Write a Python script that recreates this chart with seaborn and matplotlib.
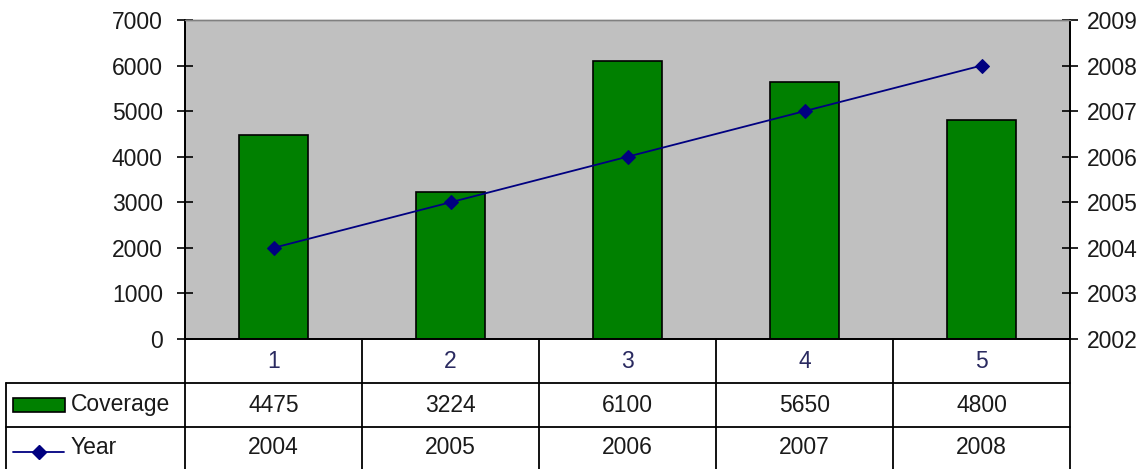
import numpy as np
import matplotlib
matplotlib.use("Agg")
import matplotlib.pyplot as plt
import seaborn as sns
from matplotlib.lines import Line2D
from matplotlib.patches import Rectangle

categories = ["1", "2", "3", "4", "5"]
coverage = [4475, 3224, 6100, 5650, 4800]
years = [2004, 2005, 2006, 2007, 2008]
left_ticks = [0, 1000, 2000, 3000, 4000, 5000, 6000, 7000]
right_ticks = [2002, 2003, 2004, 2005, 2006, 2007, 2008, 2009]

sns.set_theme(style="white")
plt.rcParams["font.family"] = ["Liberation Sans", "DejaVu Sans"]

W, H = 1147, 469
fig = plt.figure(figsize=(W / 100, H / 100), dpi=100)
fig.patch.set_facecolor("white")

# plot area in pixel units
px_l, px_r, px_t, px_b = 185, 1070, 20, 339
ax = fig.add_axes([px_l / W, (H - px_b) / H, (px_r - px_l) / W, (px_b - px_t) / H])
ax.set_facecolor("#C0C0C0")

bar_green = "#008000"
navy = "#000080"
txt = "#1a1a1a"
fs = 16.5

sns.barplot(x=categories, y=coverage, ax=ax, color=bar_green, edgecolor="black",
            linewidth=1.2, width=0.385, saturation=1)
ax.set_xlim(-0.5, len(categories) - 0.5)
ax.set_ylim(left_ticks[0], left_ticks[-1])
ax.set_yticks(left_ticks)
ax.set_xticks([])
ax.set_xlabel("")
ax.set_ylabel("")
ax.tick_params(axis="y", direction="inout", length=12, width=1.2, color="black",
               labelsize=fs, labelcolor=txt, pad=10, left=True)

ax2 = ax.twinx()
pos = np.arange(len(categories))
sns.lineplot(x=pos, y=years, ax=ax2, color=navy, linewidth=1.3, marker="D",
             markersize=7, markeredgecolor=navy, markerfacecolor=navy)
ax2.set_ylim(right_ticks[0], right_ticks[-1])
ax2.set_yticks(right_ticks)
ax2.set_xlim(-0.5, len(categories) - 0.5)
ax2.set_ylabel("")
ax2.tick_params(axis="y", direction="inout", length=12, width=1.2, color="black",
                labelsize=fs, labelcolor=txt, pad=6.5, right=True)

for a in (ax, ax2):
    a.spines["left"].set_color("black")
    a.spines["left"].set_linewidth(1.3)
    a.spines["right"].set_color("black")
    a.spines["right"].set_linewidth(1.3)
    a.spines["top"].set_color("#808080")
    a.spines["top"].set_linewidth(1.0)
    a.spines["bottom"].set_color("black")
    a.spines["bottom"].set_linewidth(1.3)

# data table beneath the plot area, drawn in pixel coordinates
tab = fig.add_axes([0, 0, 1, 1], facecolor="none")
tab.set_xlim(0, W)
tab.set_ylim(H, 0)
tab.axis("off")

col_w = (px_r - px_l) / len(categories)
row_edges = [px_b, 383, 427, 469]
lk = dict(color="black", linewidth=1.3)
for i in range(len(categories) + 1):
    x = px_l + i * col_w
    tab.add_line(Line2D([x, x], [px_b, H], **lk))
tab.add_line(Line2D([6, px_r], [row_edges[1], row_edges[1]], **lk))
tab.add_line(Line2D([6, px_r], [row_edges[2], row_edges[2]], **lk))
tab.add_line(Line2D([6, 6], [row_edges[1], H], **lk))

row_mid = [(row_edges[k] + row_edges[k + 1]) / 2 for k in range(3)]
for i, c in enumerate(categories):
    cx = px_l + (i + 0.5) * col_w
    tab.text(cx, row_mid[0], c, ha="center", va="center", fontsize=fs, color="#2a2a60")
    tab.text(cx, row_mid[1], f"{coverage[i]}", ha="center", va="center", fontsize=fs, color=txt)
    tab.text(cx, row_mid[2], f"{years[i]}", ha="center", va="center", fontsize=fs, color=txt)

# legend keys in the row headers
tab.add_patch(Rectangle((13, row_mid[1] - 7), 52, 14, facecolor=bar_green,
                        edgecolor="black", linewidth=1.2))
tab.text(71, row_mid[1], "Coverage", ha="left", va="center", fontsize=fs, color=txt)
tab.add_line(Line2D([13, 64], [row_mid[2] + 4, row_mid[2] + 4], color=navy, linewidth=1.3))
tab.add_line(Line2D([38.5], [row_mid[2] + 4], color=navy, marker="D", markersize=7,
                    markerfacecolor=navy, markeredgecolor=navy))
tab.text(71, row_mid[2], "Year", ha="left", va="center", fontsize=fs, color=txt)

fig.savefig("out.png", dpi=100, facecolor="white")
